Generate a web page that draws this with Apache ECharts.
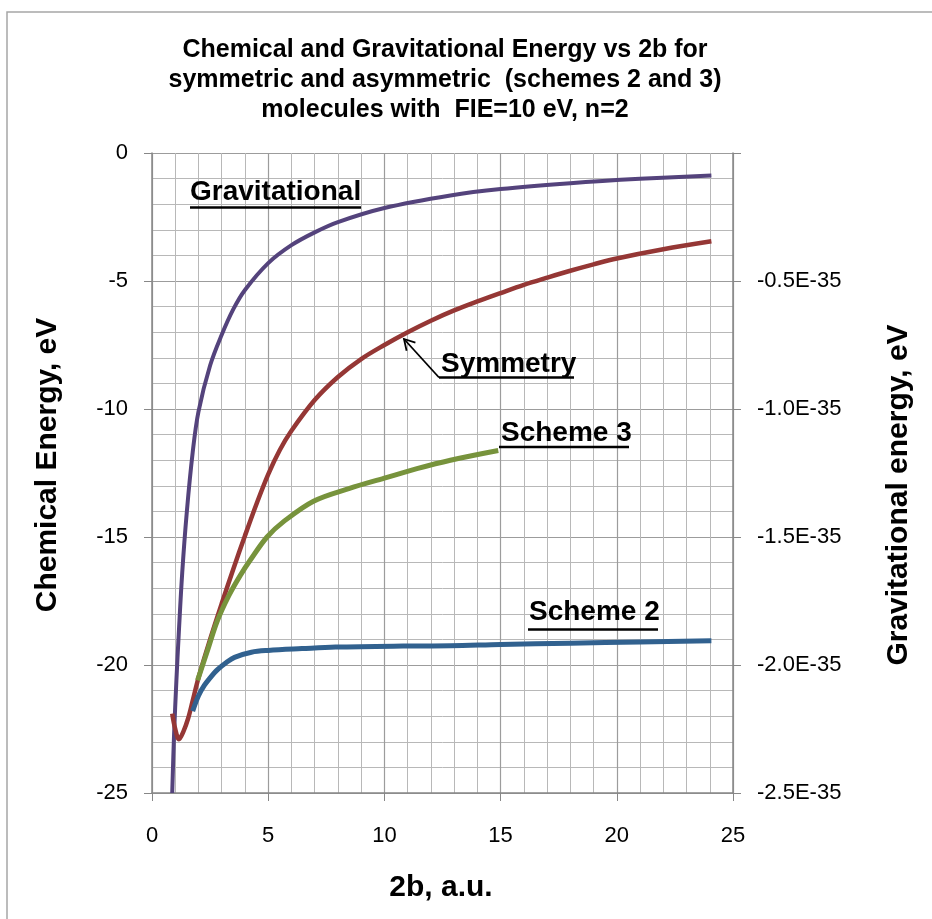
<!DOCTYPE html>
<html>
<head>
<meta charset="utf-8">
<script src="https://cdn.jsdelivr.net/npm/echarts@6/dist/echarts.min.js"></script>
<style>
  html, body { margin: 0; padding: 0; background: #fff; }
  #chart { width: 932px; height: 919px; }
</style>
</head>
<body>
<div id="chart"></div>
<script>
// values, x is 2b in a.u.
var symX = [0.87, 1.0, 1.16, 1.35, 1.55, 1.75, 2.0, 2.5, 3.0, 3.5, 4.0, 4.5, 5.0, 5.5, 6.0, 7.0, 8.0, 9.0, 10, 11, 12, 13, 14, 15, 16, 17, 18, 19, 20, 22, 24.07];
var symY = [-21.9, -22.5, -22.9, -22.6, -22.1, -21.4, -20.5, -19.0, -17.6, -16.25, -14.95, -13.7, -12.55, -11.6, -10.85, -9.65, -8.75, -8.05, -7.5, -7.0, -6.55, -6.15, -5.8, -5.47, -5.15, -4.87, -4.6, -4.35, -4.12, -3.76, -3.45];

var s3X = [1.96, 2.4, 2.8, 3.3, 3.8, 4.23, 4.95, 5.66, 6.95, 8.5, 10, 11.4, 12.84, 14.9];
var s3Y = [-20.6, -19.4, -18.3, -17.3, -16.5, -15.9, -15.0, -14.4, -13.6, -13.1, -12.7, -12.33, -12.0, -11.62];

var s2X = [1.75, 2.0, 2.25, 2.5, 2.83, 3.2, 3.55, 4.28, 5, 6.45, 7.9, 10.8, 12.84, 15, 18, 21, 24.07];
var s2Y = [-21.8, -21.2, -20.8, -20.5, -20.17, -19.9, -19.7, -19.5, -19.43, -19.36, -19.3, -19.26, -19.25, -19.2, -19.15, -19.1, -19.05];

// gravitational energy, in units of 1E-35 eV (right axis)
var gravX = [0.87, 0.95, 1.05, 1.15, 1.3, 1.5, 1.75, 2.0, 2.5, 3.0, 3.5, 4.0, 5, 6, 7, 8, 10, 12.84, 15, 18, 21, 24.07];
var gravY = [-2.5, -2.27, -2.06, -1.88, -1.64, -1.4, -1.17, -1.01, -0.83, -0.71, -0.61, -0.535, -0.43, -0.36, -0.31, -0.27, -0.215, -0.166, -0.141, -0.118, -0.101, -0.088];

var xTicks = [0, 5, 10, 15, 20, 25];
var leftTicks = [0, -5, -10, -15, -20, -25];
var rightTicks = [0, -0.5, -1.0, -1.5, -2.0, -2.5];

var pairs = function(xs, ys) {
	return xs.map(function(x, i) { return [x, ys[i]]; });
};

var font = "'Liberation Sans', Arial, sans-serif";
var gridColor = '#9c9c9c';
var minorColor = '#b8b8b8';

var chart = echarts.init(document.getElementById('chart'));

var lineSeries = function(name, data, color, width, axis) {
	return {
		name: name,
		type: 'line',
		yAxisIndex: axis,
		data: data,
		symbol: 'none',
		smooth: 0.35,
		lineStyle: { color: color, width: width },
		z: 3
	};
};

chart.setOption({
	backgroundColor: '#fff',
	animation: false,
	grid: { left: 152, right: 199, top: 153, bottom: 126 },
	xAxis: {
		type: 'value',
		min: xTicks[0],
		max: xTicks[xTicks.length - 1],
		interval: 5,
		axisLine: { show: true, onZero: false, lineStyle: { color: '#878787', width: 1.5 } },
		axisTick: { show: true, length: 8, lineStyle: { color: '#878787' } },
		axisLabel: { color: '#000', fontSize: 22, fontFamily: font, margin: 32 },
		splitLine: { show: true, lineStyle: { color: gridColor, width: 1.2 } },
		minorTick: { show: false, splitNumber: 5 },
		minorSplitLine: { show: true, lineStyle: { color: minorColor, width: 1 } }
	},
	yAxis: [{
		type: 'value',
		position: 'left',
		min: leftTicks[leftTicks.length - 1],
		max: leftTicks[0],
		interval: 5,
		axisLine: { show: true, onZero: false, lineStyle: { color: '#878787', width: 1.5 } },
		axisTick: { show: true, length: 8, lineStyle: { color: '#878787' } },
		axisLabel: { color: '#000', fontSize: 22, fontFamily: font, margin: 24 },
		splitLine: { show: true, lineStyle: { color: gridColor, width: 1.2 } },
		minorTick: { show: false, splitNumber: 5 },
		minorSplitLine: { show: true, lineStyle: { color: minorColor, width: 1 } }
	}, {
		type: 'value',
		position: 'right',
		min: rightTicks[rightTicks.length - 1],
		max: rightTicks[0],
		interval: 0.5,
		axisLine: { show: true, onZero: false, lineStyle: { color: '#878787', width: 1.5 } },
		axisTick: { show: true, length: 8, lineStyle: { color: '#878787' } },
		axisLabel: {
			color: '#000', fontSize: 22, fontFamily: font, margin: 24,
			formatter: function(v) { return v === 0 ? '' : v.toFixed(1) + 'E-35'; }
		},
		splitLine: { show: false }
	}],
	series: [
		lineSeries('Gravitational', pairs(gravX, gravY), '#54437c', 4, 1),
		lineSeries('Symmetry', pairs(symX, symY), '#953735', 4.5, 0),
		lineSeries('Scheme 3', pairs(s3X, s3Y), '#77933c', 5, 0),
		lineSeries('Scheme 2', pairs(s2X, s2Y), '#31618f', 5, 0)
	],
	graphic: [
		{ type: 'rect', shape: { x: 7, y: 12, width: 1000, height: 1000 }, style: { fill: 'none', stroke: '#a6a6a6', lineWidth: 1.5 }, silent: true },
		{
			type: 'text', x: 445, y: 80,
			style: {
				text: 'Chemical and Gravitational Energy vs 2b for\nsymmetric and asymmetric  (schemes 2 and 3)\nmolecules with  FIE=10 eV, n=2',
				font: 'bold 25px ' + font, fill: '#000', align: 'center', verticalAlign: 'middle', lineHeight: 30
			}
		},
		{ type: 'text', x: 48, y: 465, rotation: Math.PI / 2, style: { text: 'Chemical Energy, eV', font: 'bold 30px ' + font, fill: '#000', align: 'center', verticalAlign: 'middle' } },
		{ type: 'text', x: 899, y: 495, rotation: Math.PI / 2, style: { text: 'Gravitational energy, eV', font: 'bold 30px ' + font, fill: '#000', align: 'center', verticalAlign: 'middle' } },
		{ type: 'text', x: 441, y: 888, style: { text: '2b, a.u.', font: 'bold 30px ' + font, fill: '#000', align: 'center', verticalAlign: 'middle' } },

		// curve labels
		{ type: 'text', x: 190, y: 192, style: { text: 'Gravitational', font: 'bold 28px ' + font, fill: '#000', align: 'left', verticalAlign: 'middle' }, z: 10 },
		{ type: 'line', shape: { x1: 190, y1: 207.5, x2: 361, y2: 207.5 }, style: { stroke: '#000', lineWidth: 2.5 }, z: 10 },
		{ type: 'text', x: 441, y: 364, style: { text: 'Symmetry', font: 'bold 28px ' + font, fill: '#000', align: 'left', verticalAlign: 'middle' }, z: 10 },
		{ type: 'line', shape: { x1: 439, y1: 377.5, x2: 574, y2: 377.5 }, style: { stroke: '#000', lineWidth: 2.5 }, z: 10 },
		{ type: 'polyline', shape: { points: [[439, 377.5], [404, 339]] }, style: { stroke: '#000', lineWidth: 1.8, fill: 'none' }, z: 10 },
		{ type: 'polyline', shape: { points: [[406.6, 350.7], [404, 339], [415.4, 342.6]] }, style: { stroke: '#000', lineWidth: 1.8, fill: 'none' }, z: 10 },
		{ type: 'text', x: 501, y: 433, style: { text: 'Scheme 3', font: 'bold 28px ' + font, fill: '#000', align: 'left', verticalAlign: 'middle' }, z: 10 },
		{ type: 'line', shape: { x1: 499, y1: 447, x2: 629, y2: 447 }, style: { stroke: '#000', lineWidth: 2.5 }, z: 10 },
		{ type: 'text', x: 529, y: 612.5, style: { text: 'Scheme 2', font: 'bold 28px ' + font, fill: '#000', align: 'left', verticalAlign: 'middle' }, z: 10 },
		{ type: 'line', shape: { x1: 528, y1: 629.5, x2: 658, y2: 629.5 }, style: { stroke: '#000', lineWidth: 2.5 }, z: 10 }
	]
});
</script>
</body>
</html>
